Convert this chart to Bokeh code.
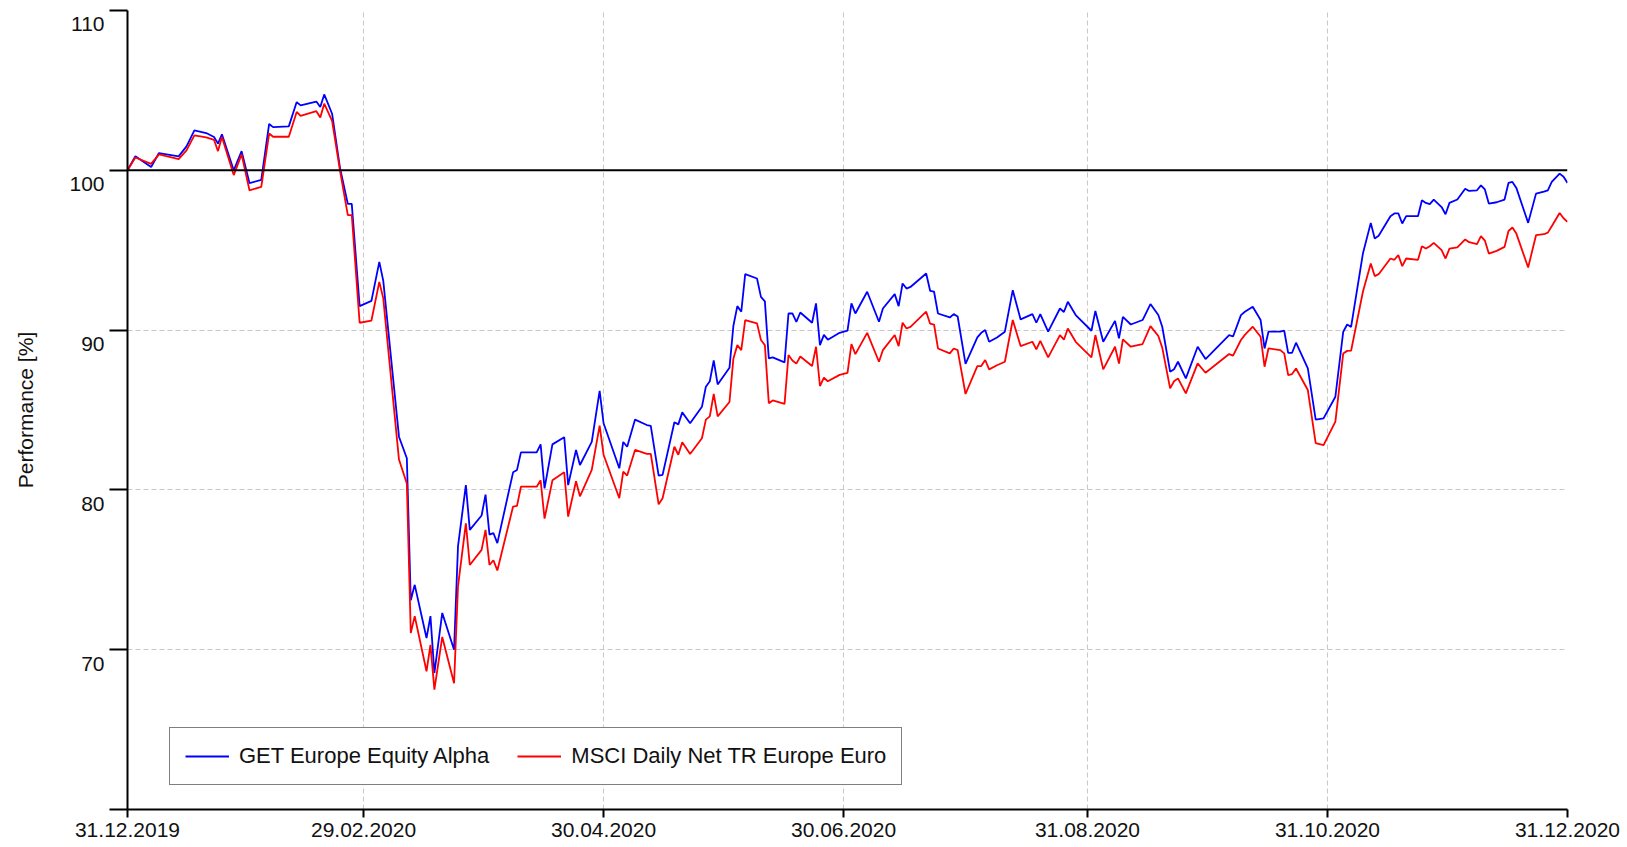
import pandas as pd
from bokeh.plotting import figure
from bokeh.models import (Range1d, FixedTicker, DatetimeTickFormatter, Span,
                          Legend, LegendItem, ColumnDataSource, LinearAxis)
from bokeh.embed import file_html
from bokeh.resources import INLINE

# ---------------- data ----------------
start_date = "2019-12-31"
day_offsets = [
    0, 2, 6, 8, 13, 15, 17, 20, 22, 23,
    24, 27, 29, 31, 34, 36, 37, 41, 43, 44,
    48, 49, 50, 52, 54, 56, 57, 59, 62, 64,
    65, 69, 71, 72, 73, 76, 77, 78, 80, 83,
    84, 86, 87, 90, 91, 92, 93, 94, 98, 99,
    100, 104, 105, 106, 108, 111, 112, 114, 115, 118,
    120, 121, 125, 126, 127, 129, 132, 133, 135, 136,
    139, 140, 141, 143, 146, 147, 148, 149, 150, 153,
    154, 155, 156, 157, 160, 161, 162, 163, 164, 167,
    168, 169, 170, 171, 174, 175, 176, 177, 178, 181,
    183, 184, 185, 188, 191, 192, 195, 196, 197, 198,
    199, 203, 204, 205, 206, 209, 210, 211, 213, 216,
    217, 218, 219, 221, 223, 225, 227, 230, 231, 232,
    234, 237, 238, 239, 241, 245, 246, 248, 251, 252,
    253, 255, 258, 260, 262, 263, 265, 266, 267, 269,
    272, 274, 280, 281, 283, 284, 286, 288, 289, 290,
    293, 294, 295, 296, 297, 300, 302, 304, 307, 309,
    310, 311, 314, 316, 317, 318, 321, 322, 323, 324,
    325, 328, 329, 330, 331, 332, 334, 335, 336, 338,
    340, 341, 343, 344, 345, 346, 348, 350, 351, 352,
    353, 356, 358, 360, 361, 362, 364, 365, 366,
]

get_europe_equity_alpha = [
    100.0, 100.88, 100.2, 101.08, 100.87, 101.5, 102.5, 102.33, 102.08, 101.67,
    102.25, 100.0, 101.2, 99.2, 99.4, 102.9, 102.7, 102.75, 104.27, 104.06,
    104.3, 103.96, 104.75, 103.54, 100.17, 97.9, 97.9, 91.5, 91.83, 94.27,
    93.1, 83.33, 81.98, 73.1, 74.06, 70.73, 72.1, 68.54, 72.3, 70.0,
    76.46, 80.3, 77.5, 78.4, 79.7, 77.2, 77.3, 76.67, 81.1, 81.25,
    82.35, 82.35, 82.85, 80.1, 82.85, 83.3, 80.3, 82.5, 81.56, 83.0,
    86.2, 84.17, 81.35, 83.0, 82.7, 84.4, 84.06, 84.0, 80.9, 80.94,
    84.23, 84.1, 84.85, 84.17, 85.2, 86.46, 86.8, 88.1, 86.6, 87.64,
    90.27, 91.5, 91.15, 93.5, 93.23, 92.08, 91.8, 88.23, 88.29, 87.98,
    91.04, 91.04, 90.52, 91.1, 90.46, 91.67, 89.06, 89.7, 89.4, 89.83,
    89.96, 91.67, 91.04, 92.4, 90.52, 91.35, 92.25, 91.5, 92.92, 92.6,
    92.7, 93.54, 92.46, 92.4, 91.04, 90.79, 91.0, 90.85, 87.88, 89.54,
    89.83, 90.0, 89.27, 89.54, 89.9, 92.5, 90.67, 91.0, 90.46, 91.0,
    89.9, 91.35, 91.13, 91.77, 90.94, 89.96, 91.2, 89.27, 90.58, 89.48,
    90.83, 90.35, 90.63, 91.63, 90.94, 90.21, 87.4, 87.55, 88.02, 86.98,
    88.96, 88.19, 89.69, 89.6, 90.94, 91.15, 91.46, 90.63, 88.85, 89.9,
    89.9, 89.96, 88.58, 88.58, 89.21, 87.6, 84.4, 84.48, 85.83, 89.9,
    90.35, 90.2, 94.79, 96.71, 95.73, 95.9, 97.13, 97.3, 97.3, 96.67,
    97.13, 97.13, 98.13, 97.96, 97.88, 98.17, 97.7, 97.25, 97.96, 98.17,
    98.85, 98.71, 98.75, 99.06, 98.8, 97.92, 98.0, 98.17, 99.21, 99.27,
    98.9, 96.71, 98.54, 98.67, 98.75, 99.27, 99.79, 99.6, 99.21,
]

msci_daily_net_tr_europe = [
    100.0, 100.8, 100.4, 101.0, 100.7, 101.25, 102.19, 102.06, 101.9, 101.2,
    102.08, 99.7, 101.0, 98.75, 98.96, 102.3, 102.1, 102.1, 103.65, 103.4,
    103.7, 103.3, 104.17, 103.1, 100.0, 97.2, 97.2, 90.46, 90.6, 93.02,
    92.0, 81.9, 80.4, 71.04, 72.1, 68.65, 70.3, 67.5, 70.8, 67.9,
    73.96, 77.9, 75.3, 76.25, 77.5, 75.3, 75.6, 74.96, 78.96, 79.0,
    80.2, 80.2, 80.6, 78.2, 80.6, 81.1, 78.33, 80.54, 79.6, 81.25,
    84.02, 82.2, 79.48, 81.15, 80.9, 82.5, 82.25, 82.25, 79.1, 79.48,
    82.7, 82.2, 82.98, 82.25, 83.23, 84.4, 84.6, 86.0, 84.6, 85.5,
    88.23, 89.06, 88.75, 90.63, 90.42, 89.38, 89.06, 85.42, 85.6, 85.38,
    88.44, 88.1, 87.9, 88.35, 87.75, 88.96, 86.5, 87.02, 86.8, 87.2,
    87.33, 89.13, 88.5, 89.83, 88.02, 88.75, 89.69, 89.0, 90.46, 90.1,
    90.2, 91.15, 90.4, 90.35, 88.85, 88.54, 88.85, 88.75, 86.0, 87.75,
    87.75, 88.13, 87.54, 87.8, 88.02, 90.63, 89.0, 89.27, 88.79, 89.33,
    88.29, 89.69, 89.4, 90.1, 89.27, 88.29, 89.69, 87.54, 88.96, 87.9,
    89.42, 88.96, 89.13, 90.25, 89.63, 88.9, 86.35, 86.8, 86.98, 86.04,
    87.92, 87.33, 88.5, 88.4, 89.38, 89.7, 90.21, 89.58, 87.71, 88.85,
    88.75, 88.54, 87.19, 87.25, 87.6, 86.25, 82.92, 82.8, 84.27, 88.54,
    88.7, 88.71, 92.4, 94.17, 93.38, 93.5, 94.48, 94.4, 94.69, 94.0,
    94.48, 94.4, 95.25, 95.1, 95.25, 95.46, 95.0, 94.48, 95.1, 95.17,
    95.67, 95.5, 95.38, 95.88, 95.6, 94.79, 94.96, 95.21, 96.2, 96.42,
    96.04, 93.92, 95.94, 96.0, 96.1, 96.5, 97.33, 97.0, 96.77,
]

series_names = ["GET Europe Equity Alpha", "MSCI Daily Net TR Europe Euro"]
series_colors = ["#0000FF", "#FF0000"]

x_tick_dates = ["2019-12-31", "2020-02-29", "2020-04-30", "2020-06-30",
                "2020-08-31", "2020-10-31", "2020-12-31"]
y_ticks = [60, 70, 80, 90, 100, 110]
y_label_values = [70, 80, 90, 100, 110]
y_label_texts = ["70", "80", "90", "100", "110"]
reference_level = 100
y_title = "Performance [%]"

assert len(day_offsets) == len(get_europe_equity_alpha) == len(msci_daily_net_tr_europe)

# ---------------- build ----------------
dates = pd.Timestamp(start_date) + pd.to_timedelta(day_offsets, unit="D")
src = ColumnDataSource(dict(date=dates, a=get_europe_equity_alpha,
                            m=msci_daily_net_tr_europe))

FONT = "Liberation Sans"
TXT = "#111111"

x_start = pd.Timestamp(x_tick_dates[0])
x_end = pd.Timestamp(x_tick_dates[-1])

p = figure(width=1627, height=847, x_axis_type="datetime",
           x_range=Range1d(x_start, x_end),
           y_range=Range1d(y_ticks[0], y_ticks[-1]),
           output_backend="svg", toolbar_location=None,
           min_border_left=127, min_border_right=60,
           min_border_top=10, min_border_bottom=38)
p.outline_line_color = None
p.background_fill_color = "white"
p.border_fill_color = "white"

# x axis
xax = p.xaxis[0]
xt = [pd.Timestamp(d, tz="UTC").timestamp() * 1000 for d in x_tick_dates]
xax.ticker = FixedTicker(ticks=xt)
fmt = "%d.%m.%Y"
xax.formatter = DatetimeTickFormatter(
    microseconds=fmt, milliseconds=fmt, seconds=fmt, minsec=fmt, minutes=fmt,
    hourmin=fmt, hours=fmt, days=fmt, months=fmt, years=fmt)
xax.axis_line_color = "black"
xax.axis_line_width = 2
xax.major_tick_line_color = "black"
xax.major_tick_line_width = 2
xax.minor_tick_line_color = None
xax.major_tick_in = 0
xax.major_tick_out = 8
xax.major_label_standoff = 5
xax.major_label_text_font = FONT
xax.major_label_text_font_size = "21px"
xax.major_label_text_color = TXT

# y axis: line + tick marks (no labels)
yax = p.yaxis[0]
yax.ticker = FixedTicker(ticks=y_ticks)
yax.major_label_overrides = {t: "" for t in y_ticks}
yax.axis_line_color = "black"
yax.axis_line_width = 2
yax.major_tick_line_color = "black"
yax.major_tick_line_width = 2
yax.minor_tick_line_color = None
yax.major_tick_in = 0
yax.major_tick_out = 18
yax.major_label_standoff = 0
yax.major_label_text_font_size = "1px"

# outer y axis: only the labels, which sit just below their ticks
label_drop = 0.875  # in y units: the reference prints each label below its tick
lab_ax = LinearAxis(ticker=FixedTicker(ticks=[v - label_drop for v in y_label_values]),
                    major_label_overrides={v - label_drop: t for v, t in zip(y_label_values, y_label_texts)})
lab_ax.axis_line_color = None
lab_ax.major_tick_line_color = None
lab_ax.minor_tick_line_color = None
lab_ax.major_tick_in = 0
lab_ax.major_tick_out = 0
lab_ax.major_label_standoff = 5
lab_ax.major_label_text_font = FONT
lab_ax.major_label_text_font_size = "21px"
lab_ax.major_label_text_color = TXT
lab_ax.axis_label = y_title
lab_ax.axis_label_text_font = FONT
lab_ax.axis_label_text_font_size = "21px"
lab_ax.axis_label_text_font_style = "normal"
lab_ax.axis_label_text_color = TXT
lab_ax.axis_label_standoff = 29
p.add_layout(lab_ax, "left")

# grid
for g in (p.xgrid, p.ygrid):
    g.grid_line_color = "#c8c8c8"
    g.grid_line_dash = "5 3"
    g.grid_line_width = 1
p.ygrid[0].ticker = yax.ticker

# reference line at 100
p.add_layout(Span(location=reference_level, dimension="width",
                  line_color="black", line_width=2))

r1 = p.line("date", "a", source=src, line_color=series_colors[0], line_width=1.8)
r2 = p.line("date", "m", source=src, line_color=series_colors[1], line_width=1.8)

legend = Legend(items=[LegendItem(label=series_names[0], renderers=[r1]),
                       LegendItem(label=series_names[1], renderers=[r2])],
                orientation="horizontal", location=(42, 24),
                glyph_width=44, glyph_height=20, label_standoff=10,
                spacing=28, padding=15, margin=0,
                border_line_color="black", border_line_width=1.5,
                background_fill_color="white", background_fill_alpha=1,
                label_text_font=FONT, label_text_font_size="22px",
                label_text_color=TXT)
p.add_layout(legend)

open("out.html", "w").write(file_html(p, INLINE))
